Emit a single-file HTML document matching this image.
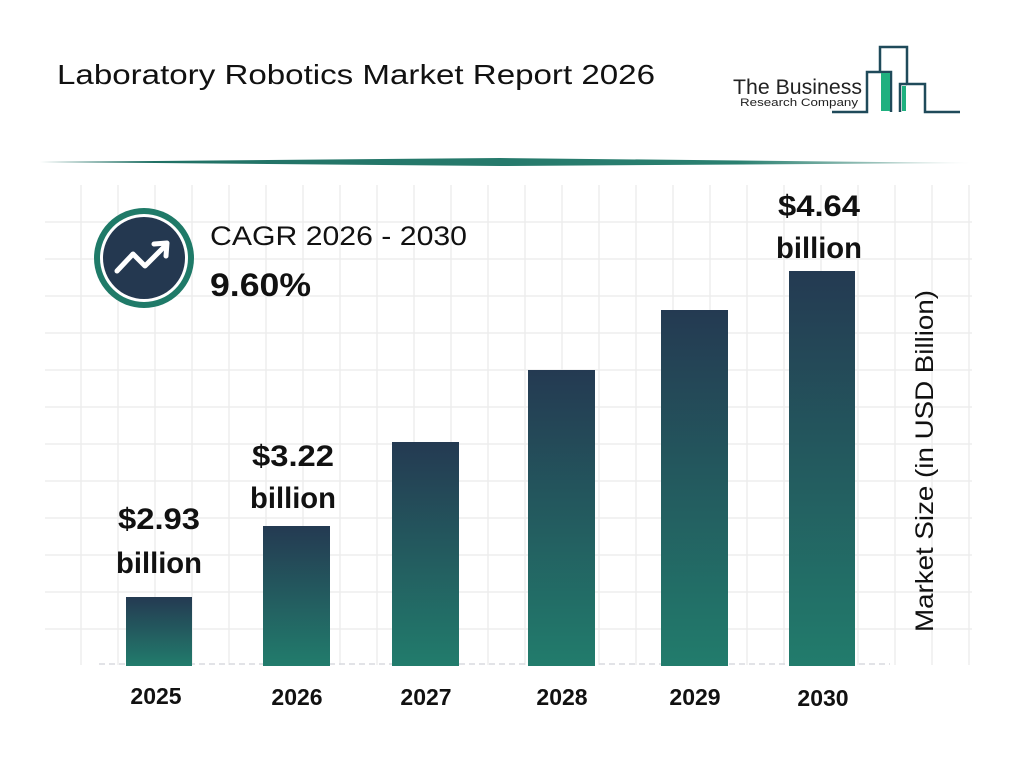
<!DOCTYPE html>
<html><head><meta charset="utf-8"><style>
body{margin:0;width:1024px;height:768px;background:#fff;overflow:hidden;font-family:"Liberation Sans",sans-serif}
</style></head><body>
<svg width="1024" height="768" xmlns="http://www.w3.org/2000/svg">
<defs>
<linearGradient id="bg" x1="0" y1="0" x2="0" y2="1"><stop offset="0" stop-color="#243a52"/><stop offset="1" stop-color="#227c6c"/></linearGradient>
<linearGradient id="hl" x1="0" y1="0" x2="1" y2="0"><stop offset="0" stop-color="#1f6e63"/><stop offset="0.75" stop-color="#2a8070"/><stop offset="1" stop-color="#e8f0ee"/></linearGradient>
</defs>
<text x="57" y="84" font-size="28" fill="#111" textLength="598" lengthAdjust="spacingAndGlyphs">Laboratory Robotics Market Report 2026</text>
<!-- logo -->
<text x="733" y="94" font-size="21" fill="#222" textLength="129" lengthAdjust="spacingAndGlyphs">The Business</text>
<text x="740" y="106" font-size="11" fill="#222" textLength="118" lengthAdjust="spacingAndGlyphs">Research Company</text>
<g fill="none" stroke="#1f4a5a" stroke-width="2.5">
<polyline points="832,112 867,112 867,72 891,72 891,112"/>
<polyline points="880,72 880,47 907,47 907,84 925,84 925,112 960,112"/>
<polyline points="900,112 900,84 907,84"/>
</g>
<rect x="881" y="73" width="9" height="38" fill="#1fb07f"/>
<rect x="902" y="86" width="4" height="25" fill="#1fb07f"/>
<polygon points="40,162 500,158 970,163 500,166" fill="url(#hl)"/>
<!-- grid -->
<g stroke="#ebebeb" stroke-width="1.3">
<line x1="45" y1="222" x2="972" y2="222"/><line x1="45" y1="259" x2="972" y2="259"/><line x1="45" y1="296" x2="972" y2="296"/><line x1="45" y1="333" x2="972" y2="333"/><line x1="45" y1="370" x2="972" y2="370"/><line x1="45" y1="407" x2="972" y2="407"/><line x1="45" y1="444" x2="972" y2="444"/><line x1="45" y1="481" x2="972" y2="481"/><line x1="45" y1="518" x2="972" y2="518"/><line x1="45" y1="555" x2="972" y2="555"/><line x1="45" y1="592" x2="972" y2="592"/><line x1="45" y1="629" x2="972" y2="629"/>
<line x1="81" y1="185" x2="81" y2="665"/><line x1="118" y1="185" x2="118" y2="665"/><line x1="155" y1="185" x2="155" y2="665"/><line x1="192" y1="185" x2="192" y2="665"/><line x1="229" y1="185" x2="229" y2="665"/><line x1="266" y1="185" x2="266" y2="665"/><line x1="303" y1="185" x2="303" y2="665"/><line x1="340" y1="185" x2="340" y2="665"/><line x1="377" y1="185" x2="377" y2="665"/><line x1="414" y1="185" x2="414" y2="665"/><line x1="451" y1="185" x2="451" y2="665"/><line x1="488" y1="185" x2="488" y2="665"/><line x1="525" y1="185" x2="525" y2="665"/><line x1="562" y1="185" x2="562" y2="665"/><line x1="599" y1="185" x2="599" y2="665"/><line x1="636" y1="185" x2="636" y2="665"/><line x1="673" y1="185" x2="673" y2="665"/><line x1="710" y1="185" x2="710" y2="665"/><line x1="747" y1="185" x2="747" y2="665"/><line x1="784" y1="185" x2="784" y2="665"/><line x1="821" y1="185" x2="821" y2="665"/><line x1="858" y1="185" x2="858" y2="665"/><line x1="895" y1="185" x2="895" y2="665"/><line x1="932" y1="185" x2="932" y2="665"/><line x1="969" y1="185" x2="969" y2="665"/>
</g>
<line x1="99" y1="664" x2="890" y2="664" stroke="#d8dadf" stroke-width="1.5" stroke-dasharray="6,4"/>
<!-- bars -->
<rect x="126" y="597" width="66" height="69" fill="url(#bg)"/>
<rect x="263" y="526" width="67" height="140" fill="url(#bg)"/>
<rect x="392" y="442" width="67" height="224" fill="url(#bg)"/>
<rect x="528" y="370" width="67" height="296" fill="url(#bg)"/>
<rect x="661" y="310" width="67" height="356" fill="url(#bg)"/>
<rect x="789" y="271" width="66" height="395" fill="url(#bg)"/>
<g font-weight="bold" font-size="30" fill="#111" text-anchor="middle" lengthAdjust="spacingAndGlyphs">
<text x="159" y="529" textLength="82" lengthAdjust="spacingAndGlyphs">$2.93</text><text x="159" y="573" textLength="86" lengthAdjust="spacingAndGlyphs">billion</text>
<text x="293" y="466" textLength="82" lengthAdjust="spacingAndGlyphs">$3.22</text><text x="293" y="508" textLength="86" lengthAdjust="spacingAndGlyphs">billion</text>
<text x="819" y="216" textLength="82" lengthAdjust="spacingAndGlyphs">$4.64</text><text x="819" y="258" textLength="86" lengthAdjust="spacingAndGlyphs">billion</text>
</g>
<g font-weight="bold" font-size="23" fill="#111" text-anchor="middle">
<text x="156" y="704">2025</text><text x="297" y="705">2026</text><text x="426" y="705">2027</text><text x="562" y="705">2028</text><text x="695" y="705">2029</text><text x="823" y="706">2030</text>
</g>
<text transform="translate(933,461) rotate(-90)" font-size="25" fill="#111" text-anchor="middle" textLength="342" lengthAdjust="spacingAndGlyphs">Market Size (in USD Billion)</text>
<!-- icon -->
<circle cx="144" cy="258" r="50" fill="#1f7a68"/>
<circle cx="144" cy="258" r="44" fill="#fff"/>
<circle cx="144" cy="258" r="41" fill="#243850"/>
<polyline points="117,271 133,254 145,266 165,246" fill="none" stroke="#fff" stroke-width="5" stroke-linecap="round" stroke-linejoin="round"/>
<polyline points="154,244 167,243 166,256" fill="none" stroke="#fff" stroke-width="5" stroke-linecap="round" stroke-linejoin="round"/>
<text x="210" y="245" font-size="27" fill="#111" textLength="257" lengthAdjust="spacingAndGlyphs">CAGR 2026 - 2030</text>
<text x="210" y="296" font-size="32" font-weight="bold" fill="#111" textLength="101" lengthAdjust="spacingAndGlyphs">9.60%</text>
</svg>
</body></html>
